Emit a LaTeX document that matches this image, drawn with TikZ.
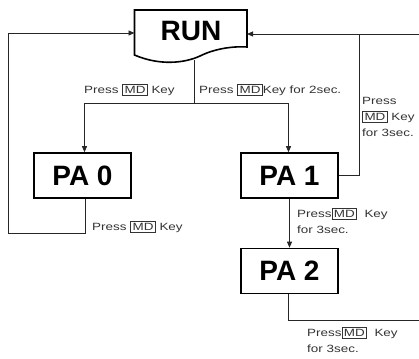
\documentclass[tikz,border=0pt]{standalone}
\usepackage{fontspec}
\setmainfont{Liberation Sans}
\newfontfamily\lblfont[FakeStretch=1.28]{Liberation Sans}
\usetikzlibrary{arrows.meta}
\newcommand\mdk{{\setlength\fboxsep{1.6pt}\setlength\fboxrule{0.7pt}\fbox{MD}}}
\begin{document}
\begin{tikzpicture}[x=1pt,y=-1pt,
  state/.style={draw,line width=1.6pt,minimum width=97pt,minimum height=45pt,inner sep=0pt,font=\fontsize{28}{28}\selectfont\bfseries},
  lbl/.style={font=\lblfont\fontsize{10.5}{16}\selectfont,text=black!80,inner sep=0pt,anchor=west,align=left},
  conn/.style={line width=0.8pt,draw=black!85},
  arr/.style={conn,-{Triangle[length=6pt,width=5pt]}}]
\useasboundingbox (0,0) rectangle (419,358);
% RUN document shape
\draw[line width=1.6pt,fill=white] (134.5,10) -- (247,10) -- (247,47)
  .. controls (232,46) and (214,49) .. (200,56)
  .. controls (185,63) and (160,66) .. (134.5,55) -- cycle;
\node[font=\fontsize{28}{28}\selectfont\bfseries,inner sep=0pt] (run) at (191,31) {RUN};
\coordinate (runL) at (134.5,33);
\coordinate (runR) at (247,34);
\coordinate (runB) at (194,60);
\node[state] (pa0) at (82.5,175.5) {PA 0};
\node[state] (pa1) at (289.5,175.5) {PA 1};
\node[state] (pa2) at (289.5,271) {PA 2};
% branching from RUN
\coordinate (br) at (194,103);
\coordinate (brL) at (84.5,103);
\coordinate (brR) at (288.5,103);
\draw[conn] (runB) -- (br);
\draw[arr] (br) -- (brL) -- (pa0.north -| brL);
\draw[arr] (br) -- (brR) -- (pa1.north -| brR);
% PA0 loop
\coordinate (l1) at (85,233);
\coordinate (l2) at (8,233);
\coordinate (l3) at (8,33);
\draw[arr] (pa0.south -| l1) -- (l1) -- (l2) -- (l3) -- (runL);
% PA1 -> RUN
\coordinate (r1) at (359,175.5);
\coordinate (r2) at (359,34);
\coordinate (edgeT) at (419,34);
\draw[conn] (pa1.east) -- (r1) -- (r2);
\draw[arr] (edgeT) -- (runR);
% PA1 -> PA2
\draw[arr] (pa1.south) -- (pa2.north);
% PA2 out
\coordinate (p1) at (288.5,320);
\coordinate (edgeB) at (419,320);
\draw[conn] (pa2.south -| p1) -- (p1) -- (edgeB);
% labels
\node[lbl] (t1) at (84,90) {Press \mdk\ Key};
\node[lbl] (t2) at (199,90) {Press \mdk Key for 2sec.};
\node[lbl] (t3) at (362,117) {Press\\\mdk\ Key\\for 3sec.};
\node[lbl] (t4) at (92,227) {Press \mdk\ Key};
\node[lbl] (t5) at (297,221) {Press\mdk\ \ Key\\for 3sec.};
\node[lbl] (t6) at (307,340) {Press\mdk\ \ Key\\for 3sec.};
\end{tikzpicture}
\end{document}
